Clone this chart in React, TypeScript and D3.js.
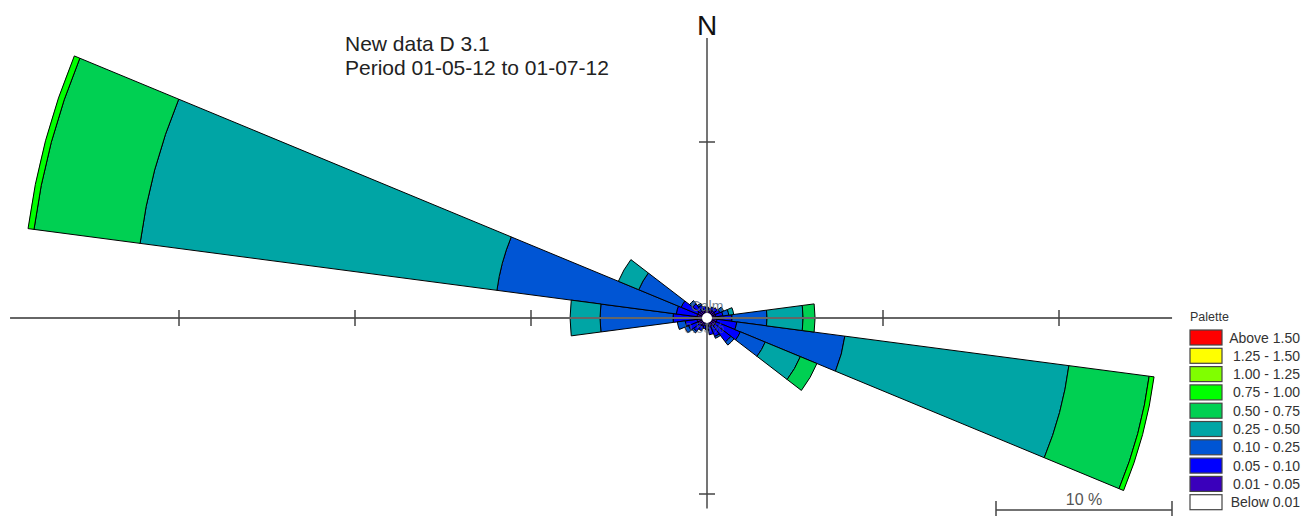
import React, { useRef, useEffect } from "react";
import * as d3 from "d3";

// wind directions (sector centres, degrees from north)
const directions = [0, 15, 30, 45, 60, 75, 90, 105, 120, 135, 150, 165, 180, 195, 210, 225, 240, 255, 270, 285, 300, 315, 330, 345];

// frequency (%) per speed class and direction
const bin0105 = [0.45, 0.45, 0.51, 0.51, 0.51, 0.51, 0.57, 0.57, 0.57, 0.57, 0.51, 0.51, 0.45, 0.45, 0.51, 0.51, 0.57, 0.57, 0.57, 0.57, 0.57, 0.51, 0.51, 0.45];
const bin0510 = [0.17, 0.11, 0.17, 0.23, 0.28, 0.4, 0.85, 1.14, 1.48, 1.14, 0.63, 0.45, 0.23, 0.17, 0.28, 0.45, 0.57, 0.68, 1.36, 1.19, 1.02, 0.51, 0.28, 0.23];
const bin1025 = [0, 0, 0, 0, 0.23, 0.34, 1.99, 6.19, 1.53, 0.23, 0.11, 0, 0, 0, 0, 0.11, 0.23, 0.45, 4.15, 10.28, 2.61, 0.23, 0.11, 0];
const bin2550 = [0, 0, 0, 0, 0, 0.28, 2.05, 12.84, 2.16, 0, 0, 0, 0, 0, 0, 0, 0, 0, 1.7, 20.45, 1.25, 0, 0, 0];
const bin5075 = [0, 0, 0, 0, 0, 0, 0.68, 4.6, 1.02, 0, 0, 0, 0, 0, 0, 0, 0, 0, 0, 6.08, 0, 0, 0, 0];
const bin75100 = [0, 0, 0, 0, 0, 0, 0, 0.28, 0, 0, 0, 0, 0, 0, 0, 0, 0, 0, 0, 0.34, 0, 0, 0, 0];

const legendLabels = ["Above 1.50", "1.25 - 1.50", "1.00 - 1.25", "0.75 - 1.00", "0.50 - 0.75", "0.25 - 0.50", "0.10 - 0.25", "0.05 - 0.10", "0.01 - 0.05", "Below 0.01"];
const legendColors = ["#ff0000", "#ffff00", "#80ff00", "#00ff00", "#00d052", "#00a5a5", "#0055d4", "#0000ff", "#3a00bb", "#ffffff"];

const titleLines = ["New data D 3.1", "Period 01-05-12 to 01-07-12"];
const calmText = "Calm";
const calmPct = "0.53%";
const scaleBarPct = 10;

const FONT = "'Liberation Sans', Arial, sans-serif";

function WindRose() {
  const svgRef = useRef<SVGSVGElement>(null);
  const width = 1315;
  const height = 516;
  const cx = 707;
  const cy = 318;

  useEffect(() => {
    const svg = d3.select(svgRef.current);
    svg.selectAll("*").remove();

    // stacked classes, inner to outer
    const keys = ["c0105", "c0510", "c1025", "c2550", "c5075", "c75100"];
    const keyColors = [legendColors[8], legendColors[7], legendColors[6], legendColors[5], legendColors[4], legendColors[3]];
    const rows = directions.map((dir, i) => ({
      dir,
      c0105: bin0105[i],
      c0510: bin0510[i],
      c1025: bin1025[i],
      c2550: bin2550[i],
      c5075: bin5075[i],
      c75100: bin75100[i],
    }));
    const series = d3.stack<any>().keys(keys)(rows);

    const rScale = d3.scaleLinear().domain([0, 10]).range([0, 176]);
    const toRad = (deg: number) => (deg * Math.PI) / 180;
    const half = 7.5;

    const arc = d3
      .arc<any>()
      .innerRadius((d) => rScale(d[0]))
      .outerRadius((d) => rScale(d[1]))
      .startAngle((d) => toRad(d.data.dir - half))
      .endAngle((d) => toRad(d.data.dir + half));

    const rose = svg.append("g").attr("transform", `translate(${cx},${cy})`);
    series.forEach((s, si) => {
      rose
        .append("g")
        .selectAll("path")
        .data(s.filter((d) => d[1] - d[0] > 0))
        .join("path")
        .attr("d", arc)
        .attr("fill", keyColors[si])
        .attr("stroke", "#000")
        .attr("stroke-width", 1)
        .attr("stroke-linejoin", "round");
    });

    // axis extent from the wedge corners
    let minX = 0, maxX = 0, minY = 0, maxY = 0;
    rows.forEach((row, i) => {
      const total = series[series.length - 1][i][1];
      [row.dir - half, row.dir + half].forEach((a) => {
        const x = rScale(total) * Math.sin(toRad(a));
        const y = -rScale(total) * Math.cos(toRad(a));
        minX = Math.min(minX, x); maxX = Math.max(maxX, x);
        minY = Math.min(minY, y); maxY = Math.max(maxY, y);
      });
    });
    const pad = 18;
    const xScale = d3.scaleLinear().domain([-10, 10]).range([cx - 176, cx + 176]);
    const yScale = d3.scaleLinear().domain([-10, 10]).range([cy + 176, cy - 176]);
    const x0 = cx + minX - pad, x1 = cx + maxX + pad;
    const y0 = cy + minY - pad, y1 = cy + maxY + pad;

    const axes = svg.append("g");
    axes.append("line").attr("x1", x0).attr("x2", x1).attr("y1", cy).attr("y2", cy)
      .attr("stroke", "#666").attr("stroke-width", 1.8);
    axes.append("line").attr("x1", cx).attr("x2", cx).attr("y1", y0).attr("y2", y1)
      .attr("stroke", "#666").attr("stroke-width", 1.8);

    const xTicks = d3.range(Math.ceil(xScale.invert(x0) / 10) * 10, xScale.invert(x1), 10).filter((t) => t !== 0);
    const yTicks = d3.range(Math.ceil(yScale.invert(y1) / 10) * 10, yScale.invert(y0), 10).filter((t) => t !== 0);
    axes.selectAll(".xt").data(xTicks).join("line").attr("class", "xt")
      .attr("x1", (t) => xScale(t)).attr("x2", (t) => xScale(t))
      .attr("y1", cy - 8).attr("y2", cy + 8)
      .attr("stroke", "#444").attr("stroke-width", 1.5);
    axes.selectAll(".yt").data(yTicks).join("line").attr("class", "yt")
      .attr("y1", (t) => yScale(t)).attr("y2", (t) => yScale(t))
      .attr("x1", cx - 8).attr("x2", cx + 8)
      .attr("stroke", "#444").attr("stroke-width", 1.5);

    // calm circle and labels
    svg.append("circle").attr("cx", cx).attr("cy", cy).attr("r", 5).attr("fill", "#fff");
    svg.append("text").attr("x", cx).attr("y", cy - 7).attr("text-anchor", "middle")
      .attr("font-family", FONT).attr("font-size", 14).attr("fill", "#5a6b7c").attr("opacity", 0.85)
      .text(calmText);
    svg.append("text").attr("x", cx - 3).attr("y", cy + 15).attr("text-anchor", "middle")
      .attr("font-family", FONT).attr("font-size", 14).attr("fill", "#5a6b7c").attr("opacity", 0.6)
      .text(calmPct);

    // north label
    svg.append("text").attr("x", cx).attr("y", 35).attr("text-anchor", "middle")
      .attr("font-family", FONT).attr("font-size", 28).attr("fill", "#111").text("N");

    // title
    svg.selectAll(".title").data(titleLines).join("text").attr("class", "title")
      .attr("x", 345).attr("y", (_, i) => 51 + i * 24)
      .attr("font-family", FONT).attr("font-size", 21).attr("fill", "#222")
      .text((d) => d);

    // scale bar
    const barR = 1172;
    const barL = barR - rScale(scaleBarPct);
    const bar = svg.append("g").attr("stroke", "#444").attr("stroke-width", 1.5);
    bar.append("line").attr("x1", barL).attr("x2", barR).attr("y1", 510).attr("y2", 510);
    bar.append("line").attr("x1", barL).attr("x2", barL).attr("y1", 501).attr("y2", 516);
    bar.append("line").attr("x1", barR).attr("x2", barR).attr("y1", 501).attr("y2", 516);
    svg.append("text").attr("x", (barL + barR) / 2).attr("y", 505).attr("text-anchor", "middle")
      .attr("font-family", FONT).attr("font-size", 16).attr("fill", "#555")
      .text(`${scaleBarPct} %`);

    // legend
    const legend = svg.append("g");
    legend.append("text").attr("x", 1190).attr("y", 321)
      .attr("font-family", FONT).attr("font-size", 12.5).attr("fill", "#333").text("Palette");
    const ly = d3.scaleLinear().domain([0, 1]).range([330, 348.3]);
    legend.selectAll("rect").data(legendColors).join("rect")
      .attr("x", 1190).attr("y", (_, i) => ly(i)).attr("width", 32).attr("height", 15)
      .attr("fill", (d) => d).attr("stroke", "#444").attr("stroke-width", 1.2);
    legend.selectAll(".ll").data(legendLabels).join("text").attr("class", "ll")
      .attr("x", 1300).attr("y", (_, i) => ly(i) + 12.5).attr("text-anchor", "end")
      .attr("font-family", FONT).attr("font-size", 14).attr("fill", "#333")
      .text((d) => d);
  }, []);

  return (
    <svg
      ref={svgRef}
      width={width}
      height={height}
      style={{ position: "absolute", left: 0, top: 0, background: "#fff" }}
    />
  );
}

export default function App() {
  return <WindRose />;
}
